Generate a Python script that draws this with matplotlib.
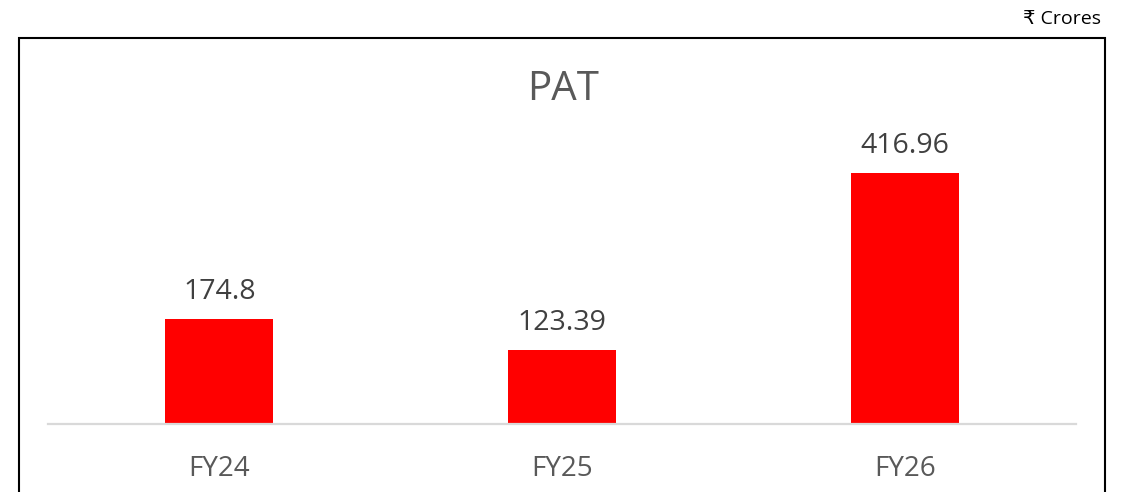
import matplotlib
matplotlib.use("Agg")
import matplotlib.pyplot as plt
from matplotlib.patches import Rectangle

# Data
years = ["FY24", "FY25", "FY26"]
pat = [174.8, 123.39, 416.96]
labels = ["174.8", "123.39", "416.96"]

plt.rcParams['font.family'] = ['Open Sans', 'DejaVu Sans']

W, H = 1127, 492
fig = plt.figure(figsize=(W / 100, H / 100), dpi=100)

# axes: baseline at y=424 px, spans x 48..1076 px
ax = fig.add_axes([48 / W, (H - 424) / H, 1028 / W, 324 / H])
ax.bar(range(len(years)), pat, width=0.315, color='#ff0000')
ax.set_xlim(-0.5, 2.5)
ax.set_ylim(0, 324 / 0.602)

for i, (v, t) in enumerate(zip(pat, labels)):
    ax.annotate(t, (i, v), xytext=(0, 9), textcoords='offset points',
                ha='center', va='bottom', fontsize=20.5, color='#404040')

ax.set_xticks(range(len(years)))
ax.set_xticklabels(years, fontsize=20, color='#595959')
ax.tick_params(axis='x', length=0, pad=22)
ax.set_yticks([])
for s in ['top', 'right', 'left']:
    ax.spines[s].set_visible(False)
ax.spines['bottom'].set_color('#d9d9d9')
ax.spines['bottom'].set_linewidth(1.6)

# title and unit
fig.text(563 / W, 1 - 90 / H, "PAT", ha='center', va='center',
         fontsize=29, color='#595959')
fig.text(1101 / W, 1 - 19 / H, "₹ Crores", ha='right', va='center',
         fontsize=14, color='#000000')

# outer box (runs off the bottom edge)
box = Rectangle((18.5 / W, -0.05), (1105 - 18.5) / W, (H - 37.5) / H + 0.05,
                transform=fig.transFigure, fill=False, edgecolor='black',
                linewidth=1.5, clip_on=False)
fig.patches.append(box)

fig.savefig("out.png", dpi=100)
